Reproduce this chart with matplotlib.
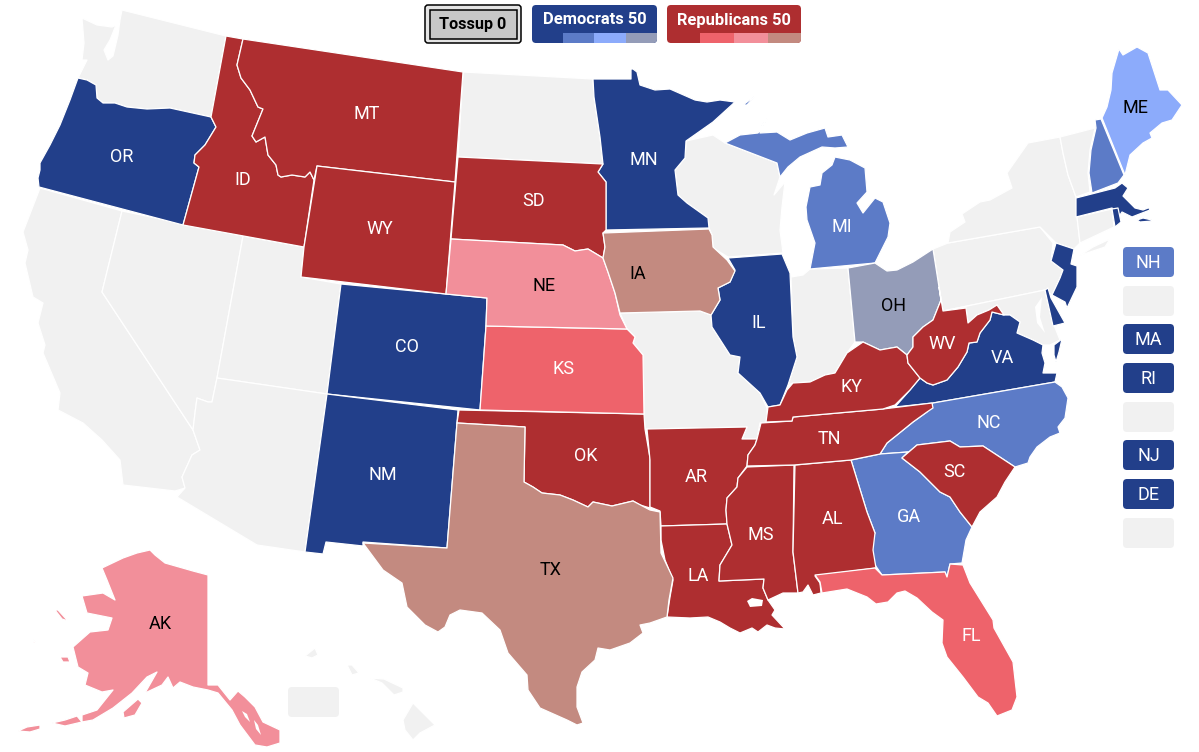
# 2024-style US electoral map with state ratings, outlines (pixel units)
import matplotlib
matplotlib.use('Agg')
import matplotlib.pyplot as plt
from matplotlib.patches import Polygon, FancyBboxPatch, Rectangle

plt.rcParams['font.family'] = ['Roboto', 'DejaVu Sans']

# state outlines
WA = [(122,10),(226,36),(211,117),(170,108),(147,109),(127,107),(115,103),(103,103),(97,98),(96,85),(87,80),(78,78),(87,60),(82,60),(84,43),(82,18),(97,25),(112,27),(116,25),(110,40),(104,50),(108,60),(113,56),(118,35),(120,20)]
OR = [(78,78),(87,80),(96,85),(97,98),(103,103),(115,103),(127,107),(147,109),(170,108),(211,117),(216,127),(205,145),(195,155),(194,163),(199,167),(183,225),(39,187),(38,178),(40,170),(40,163),(50,145),(60,125),(70,100)]
ID = [(226,36),(243,39),(237,65),(241,78),(250,90),(258,107),(263,109),(252,136),(256,142),(265,137),(268,155),(276,165),(278,175),(281,177),(292,175),(305,177),(310,172),(314,180),(304,247),(183,225),(199,167),(194,163),(195,155),(205,145),(216,127),(211,117)]
MT = [(243,39),(463,72),(455,182),(317,166),(314,180),(310,172),(305,177),(292,175),(281,177),(278,175),(276,165),(268,155),(265,137),(256,142),(252,136),(263,109),(258,107),(250,90),(241,78),(237,65)]
WY = [(317,166),(455,182),(446,294),(301,277),(304,247)]
ND = [(463,72),(593,79),(594,97),(600,137),(603,164),(458,157)]
SD = [(458,157),(603,164),(598,172),(606,182),(606,230),(603,233),(605,247),(603,258),(588,249),(575,251),(563,245),(451,239)]
NE = [(451,239),(563,245),(575,251),(588,249),(603,258),(608,272),(615,293),(620,315),(627,329),(486,326),(487,298),(446,294)]
CO = [(341,284),(446,294),(487,298),(486,326),(480,410),(327,394)]
KS = [(486,326),(627,329),(635,337),(633,343),(643,355),(644,414),(480,410)]
NM = [(327,394),(458,410),(457,423),(447,548),(363,542),(363,546),(326,542),(323,554),(305,552)]
OK = [(459,410),(644,414),(645,429),(650,458),(650,508),(640,505),(633,501),(612,506),(593,502),(588,507),(573,500),(560,495),(542,493),(533,487),(524,482),(525,427),(457,423)]
TX = [(457,423),(525,427),(524,482),(533,487),(542,493),(560,495),(573,500),(588,507),(593,502),(612,506),(633,501),(650,510),(660,512),(661,553),(673,578),(669,600),(667,617),(650,623),(640,625),(643,633),(630,643),(610,650),(598,648),(595,660),(582,672),(577,687),(577,707),(583,723),(577,725),(567,720),(540,708),(528,690),(527,675),(508,653),(500,630),(482,613),(460,610),(450,615),(445,627),(438,632),(425,625),(407,607),(402,583),(383,570),(363,543),(447,548)]
MN = [(593,79),(631,79),(631,69),(633,69),(637,72),(640,85),(655,90),(670,89),(695,100),(707,102),(720,100),(735,102),(713,122),(686,141),(685,158),(675,170),(678,195),(687,203),(708,218),(709,228),(606,230),(606,182),(598,172),(603,164),(600,137),(594,97)]
IA = [(603,233),(709,229),(712,235),(713,247),(727,260),(735,271),(730,282),(718,288),(720,300),(711,315),(700,311),(620,313),(615,293),(608,272),(603,258),(605,247)]
MO = [(620,313),(700,311),(711,315),(712,327),(730,355),(740,357),(738,373),(760,393),(767,408),(768,422),(760,423),(757,439),(742,439),(747,427),(645,429),(644,414),(643,355),(633,343),(635,337),(627,329)]
AR = [(647,429),(747,427),(742,439),(757,439),(755,445),(748,455),(747,466),(738,478),(737,487),(727,498),(726,510),(727,524),(661,526),(660,511),(650,507),(650,460)]
LA = [(661,526),(727,524),(732,545),(720,565),(719,581),(764,579),(763,588),(768,600),(775,610),(772,615),(785,629),(775,628),(767,625),(758,632),(752,628),(740,633),(730,628),(720,622),(708,617),(690,618),(667,617),(670,597),(673,580),(665,560),(661,540)]
MS = [(747,467),(794,465),(793,552),(798,593),(783,593),(768,600),(763,588),(764,579),(719,581),(720,565),(732,545),(727,524),(726,510),(727,498),(737,487),(738,478)]
AL = [(795,465),(851,460),(867,512),(875,533),(873,550),(876,568),(815,576),(820,583),(821,593),(813,595),(808,585),(803,592),(798,593),(793,552)]
GA = [(851,460),(880,454),(908,452),(903,457),(902,458),(920,472),(940,492),(950,497),(960,512),(968,522),(972,527),(966,540),(962,563),(950,564),(947,577),(945,572),(882,575),(873,562),(872,540),(875,533),(867,512)]
SC = [(903,457),(917,445),(950,441),(960,447),(983,446),(1015,467),(1005,482),(997,497),(980,512),(972,527),(968,522),(960,512),(950,497),(940,492),(920,472),(902,458)]
NC = [(880,454),(887,443),(897,435),(913,422),(927,412),(933,403),(1055,382),(1062,387),(1068,398),(1065,418),(1058,427),(1060,433),(1050,437),(1037,447),(1030,457),(1028,463),(1015,467),(983,446),(960,447),(950,441),(917,445),(903,457),(908,452)]
FL = [(815,575),(875,568),(882,575),(945,572),(947,577),(950,564),(963,565),(970,583),(993,620),(994,628),(1013,662),(1017,697),(1012,710),(997,716),(988,703),(978,697),(963,677),(947,657),(942,643),(943,620),(932,612),(917,598),(905,591),(897,593),(888,602),(876,604),(867,597),(847,589),(822,593),(820,582)]
TN = [(761,423),(792,421),(793,417),(883,409),(932,403),(933,408),(927,412),(913,422),(897,435),(887,443),(880,454),(851,460),(794,465),(747,466),(748,455),(755,445),(757,439)]
KY = [(766,422),(768,407),(780,405),(787,390),(793,383),(810,382),(825,375),(835,373),(847,353),(863,342),(880,350),(897,347),(907,355),(908,363),(920,378),(910,390),(895,405),(883,409),(793,417),(792,421)]
IL = [(728,258),(782,254),(790,273),(793,337),(797,357),(788,385),(780,405),(768,407),(760,393),(738,373),(740,357),(730,355),(712,327),(711,315),(720,300),(718,288),(730,282),(735,270)]
IN = [(791,277),(803,275),(810,269),(848,268),(855,342),(847,353),(835,373),(825,375),(810,382),(793,383),(788,385),(797,357),(793,337)]
OH = [(848,268),(875,263),(887,271),(897,270),(913,262),(933,249),(939,287),(941,300),(933,320),(923,327),(913,337),(913,347),(907,355),(897,347),(880,350),(863,342),(855,342)]
WV = [(907,355),(913,347),(913,337),(923,327),(933,320),(941,300),(939,287),(943,311),(966,308),(968,323),(977,315),(989,310),(997,305),(1004,315),(992,312),(990,320),(980,333),(977,342),(969,343),(967,352),(958,367),(947,380),(933,385),(927,383),(920,378),(908,363)]
VA = [(895,407),(910,390),(920,378),(927,383),(933,385),(947,380),(958,367),(967,352),(969,343),(977,342),(980,333),(990,320),(992,312),(1004,315),(1010,315),(1020,322),(1017,333),(1033,340),(1043,345),(1042,353),(1045,363),(1043,373),(1057,373),(1055,382),(933,403)]
VA_SHORE = [(1054,345),(1062,339),(1059,352),(1056,362),(1054,355)]
MD = [(943,311),(1045,290),(1052,320),(1060,340),(1050,345),(1043,345),(1033,340),(1017,333),(1020,322),(1010,315),(1004,315),(997,305),(989,310),(977,315),(968,323),(966,308)]
DE = [(1045,290),(1048,288),(1051,298),(1065,323),(1053,326)]
NJ = [(1056,243),(1074,249),(1071,264),(1077,266),(1077,287),(1067,308),(1065,302),(1052,295),(1060,278),(1063,270),(1051,261)]
PA = [(933,249),(948,243),(1040,227),(1053,243),(1051,261),(1063,270),(1060,278),(1052,295),(1045,290),(943,311),(939,287)]
NY = [(948,243),(950,232),(965,222),(962,214),(980,202),(990,200),(1012,188),(1007,173),(1028,143),(1060,137),(1063,153),(1068,175),(1076,197),(1077,217),(1080,243),(1074,249),(1056,243),(1040,227)]
LONG_ISLAND = [(1079,256),(1093,247),(1110,239),(1105,247),(1087,253)]
CT = [(1077,217),(1112,209),(1114,227),(1080,243)]
RI = [(1112,209),(1118,208),(1121,222),(1115,227)]
MA = [(1076,198),(1115,188),(1122,183),(1128,188),(1123,196),(1135,208),(1143,210),(1148,208),(1145,200),(1150,210),(1137,215),(1132,217),(1122,212),(1120,215),(1112,208),(1076,217)]
MA_ISLANDS = [(1137,220),(1143,218),(1152,220),(1152,221),(1140,222)]
VT = [(1060,137),(1095,128),(1090,150),(1088,173),(1090,192),(1076,197),(1068,175),(1063,153)]
NH = [(1095,120),(1101,119),(1124,175),(1118,183),(1092,193),(1089,173),(1091,150),(1096,128)]
ME = [(1119,49),(1123,55),(1137,47),(1148,53),(1160,90),(1168,90),(1182,105),(1172,120),(1162,123),(1150,133),(1152,138),(1143,143),(1130,155),(1125,175),(1102,118),(1107,107),(1111,90),(1112,73)]
WI = [(686,141),(713,135),(725,143),(777,163),(780,177),(774,195),(785,182),(782,207),(780,230),(783,253),(728,257),(713,248),(712,235),(709,228),(708,218),(687,203),(678,195),(675,170),(685,158)]
MI_UPPER = [(725,143),(740,135),(758,133),(770,115),(762,125),(760,133),(777,132),(790,140),(807,133),(825,128),(828,137),(842,135),(848,147),(835,148),(822,147),(800,157),(788,167),(780,177),(777,163)]
MI_LOWER = [(835,157),(850,160),(865,168),(867,192),(857,203),(863,213),(875,198),(883,202),(890,223),(888,237),(875,263),(810,269),(815,243),(807,220),(806,207),(810,187),(820,185),(822,173),(832,165)]
MI_ISLE = [(743,105),(755,96),(747,105)]
CA = [(40,188),(122,211),(102,292),(193,430),(200,450),(192,455),(182,477),(185,488),(175,491),(123,485),(120,460),(102,440),(83,423),(58,410),(60,393),(43,353),(45,345),(38,323),(43,303),(33,297),(25,263),(28,250),(23,232)]
NV = [(122,211),(243,236),(217,378),(212,402),(208,402),(197,398),(195,413),(193,430),(102,292)]
UT = [(243,236),(304,247),(301,277),(341,284),(327,394),(217,378)]
AZ = [(217,378),(327,394),(305,552),(257,545),(177,497),(185,488),(182,477),(192,455),(200,450),(193,430),(195,413),(197,398),(208,402),(212,402)]
HI_1 = [(305,656),(315,648),(318,655),(312,658)]
HI_2 = [(347,665),(352,665),(359,673),(352,675)]
HI_3 = [(370,678),(384,679),(403,688),(403,692),(394,695),(382,683)]
HI_4 = [(403,720),(413,703),(435,725),(420,733),(413,740),(405,730)]
AK = [(150,550),(155,555),(165,563),(193,571),(208,575),(208,685),(218,685),(230,700),(238,691),(245,697),(255,707),(263,722),(280,730),(280,743),(267,747),(255,745),(240,725),(232,710),(218,693),(208,690),(193,687),(180,682),(173,688),(168,677),(162,685),(145,693),(157,672),(147,677),(132,693),(113,708),(93,720),(82,722),(82,715),(97,710),(113,690),(102,692),(85,685),(88,673),(78,667),(73,647),(90,632),(108,630),(112,618),(87,613),(82,596),(103,593),(115,600),(107,580),(102,568),(123,558),(137,553)]
AK_KODIAK = [(123,712),(138,699),(142,703),(135,715),(124,718)]
AK_ISLE_1 = [(52,723),(65,720),(77,716),(82,722),(65,726)]
AK_ISLE_2 = [(18,731),(27,727),(40,725),(40,729),(30,732)]
AK_ISLE_3 = [(55,610),(58,610),(68,621),(62,619)]
AK_ISLE_4 = [(60,657),(68,657),(70,662),(63,662)]
AK_ISLE_5 = [(33,639),(36,643),(34,643)]

# water cut out of the land shapes
LAKE_PONTCHARTRAIN = [(747,601),(752,598),(763,600),(762,606),(750,607)]
CHESAPEAKE = [(1035,307),(1042,297),(1040,317),(1045,333),(1037,323)]
SE_ALASKA_1 = [(242,711),(247,714),(250,722),(245,717)]
SE_ALASKA_2 = [(254,720),(258,725),(261,735),(256,729)]

# ratings
safe_dem = {'OR': [OR], 'CO': [CO], 'NM': [NM], 'MN': [MN], 'IL': [IL], 'VA': [VA, VA_SHORE], 'NJ': [NJ], 'DE': [DE], 'MA': [MA, MA_ISLANDS], 'RI': [RI]}
likely_dem = {'MI': [MI_UPPER, MI_LOWER, MI_ISLE], 'NC': [NC], 'GA': [GA], 'NH': [NH]}
lean_dem = {'ME': [ME]}
tilt_dem = {'OH': [OH]}
safe_rep = {'ID': [ID], 'MT': [MT], 'WY': [WY], 'SD': [SD], 'OK': [OK], 'AR': [AR], 'LA': [LA], 'MS': [MS], 'AL': [AL], 'TN': [TN], 'KY': [KY], 'WV': [WV], 'SC': [SC]}
likely_rep = {'KS': [KS], 'FL': [FL]}
lean_rep = {'NE': [NE], 'AK': [AK, AK_KODIAK, AK_ISLE_1, AK_ISLE_2, AK_ISLE_3, AK_ISLE_4, AK_ISLE_5]}
tilt_rep = {'IA': [IA], 'TX': [TX]}
no_race = [WA, ND, CA, NV, UT, AZ, MO, WI, IN, PA, NY, LONG_ISLAND, CT, VT, MD, HI_1, HI_2, HI_3, HI_4]

label_pos = {'OR': (122,156), 'ID': (243,179), 'MT': (367,113), 'WY': (380,228), 'SD': (534,200), 'NE': (544,285),
             'IA': (638,273), 'MN': (644,159), 'MI': (842,226), 'IL': (759,322), 'OH': (894,305), 'WV': (942,343),
             'VA': (1002,357), 'KY': (851,386), 'TN': (829,438), 'NC': (989,422), 'SC': (954,471), 'GA': (909,516),
             'AL': (832,518), 'MS': (761,534), 'LA': (698,575), 'AR': (696,476), 'OK': (586,455), 'KS': (563,368),
             'CO': (407,346), 'NM': (383,474), 'TX': (551,569), 'FL': (971,635), 'AK': (160,623), 'ME': (1135,107)}
black_labels = ['NE', 'IA', 'OH', 'TX', 'AK', 'ME']

# small-state boxes on the right, gray ones have no race
side_labels = ['NH', '', 'MA', 'RI', '', 'NJ', 'DE', '']
side_tops = [247, 286, 324, 363, 402, 440, 479, 518]
side_colors = ['likely_dem', 'none', 'safe_dem', 'safe_dem', 'none', 'safe_dem', 'safe_dem', 'none']

colors = {'none': '#f1f1f1', 'safe_dem': '#223f8a', 'likely_dem': '#5c7bc7', 'lean_dem': '#8cabfb', 'tilt_dem': '#949cb8',
          'safe_rep': '#ae2e30', 'likely_rep': '#ee636b', 'lean_rep': '#f28f9a', 'tilt_rep': '#c38a80'}

fig = plt.figure(figsize=(11.99, 7.52), dpi=100)
ax = fig.add_axes([0, 0, 1, 1])
ax.set_xlim(0, 1199)
ax.set_ylim(752, 0)
ax.axis('off')


def draw(shape, color):
    ax.add_patch(Polygon(shape, closed=True, facecolor=color, edgecolor='white', linewidth=0.9, joinstyle='round', zorder=2))


def rounded(x, y, w, h, color, r=4, **kw):
    box = FancyBboxPatch((x + r, y + r), w - 2*r, h - 2*r, boxstyle='round,pad=%d,rounding_size=%d' % (r, r), facecolor=color, edgecolor='none', zorder=3, **kw)
    ax.add_patch(box)
    return box


for shape in no_race:
    draw(shape, colors['none'])

groups = [(safe_dem, 'safe_dem'), (likely_dem, 'likely_dem'), (lean_dem, 'lean_dem'), (tilt_dem, 'tilt_dem'),
          (safe_rep, 'safe_rep'), (likely_rep, 'likely_rep'), (lean_rep, 'lean_rep'), (tilt_rep, 'tilt_rep')]
for group, key in groups:
    for name, shapes in group.items():
        for shape in shapes:
            draw(shape, colors[key])

for shape in [LAKE_PONTCHARTRAIN, CHESAPEAKE, SE_ALASKA_1, SE_ALASKA_2]:
    ax.add_patch(Polygon(shape, closed=True, facecolor='white', edgecolor='none', zorder=2.5))

for name, (x, y) in label_pos.items():
    ax.text(x, y + 1, name, color='black' if name in black_labels else 'white', fontsize=13, ha='center', va='center', zorder=4)

# territory-at-large gray box under Hawaii
rounded(288, 687, 51, 30, colors['none'])

for name, top, key in zip(side_labels, side_tops, side_colors):
    rounded(1123, top, 51, 30, colors[key])
    if name:
        ax.text(1148.5, top + 16, name, color='white', fontsize=13, ha='center', va='center', zorder=4)

# tossup button
outer = FancyBboxPatch((428, 8), 90, 32, boxstyle='round,pad=3,rounding_size=3', facecolor='#e4e4e4', edgecolor='black', linewidth=1.1, zorder=3)
ax.add_patch(outer)
ax.add_patch(Rectangle((429.5, 9.5), 87, 29, facecolor='#c8c8c8', edgecolor='black', linewidth=1.1, zorder=3.1))
ax.text(473, 24.5, 'Tossup 0', color='black', fontsize=11.6, fontweight='bold', ha='center', va='center', zorder=4)

# party totals with rating strips
dem_box = rounded(532, 5, 125, 38, colors['safe_dem'])
for x0, x1, key in [(563, 594, 'likely_dem'), (594, 626, 'lean_dem'), (626, 657, 'tilt_dem')]:
    strip = Rectangle((x0, 33), x1 - x0, 10, facecolor=colors[key], edgecolor='none', zorder=3.1)
    ax.add_patch(strip)
    strip.set_clip_path(dem_box)
ax.text(594.5, 20, 'Democrats 50', color='white', fontsize=11.9, fontweight='bold', ha='center', va='center', zorder=4)

rep_box = rounded(667, 5, 134, 38, colors['safe_rep'])
for x0, x1, key in [(700, 734, 'likely_rep'), (734, 768, 'lean_rep'), (768, 801, 'tilt_rep')]:
    strip = Rectangle((x0, 33), x1 - x0, 10, facecolor=colors[key], edgecolor='none', zorder=3.1)
    ax.add_patch(strip)
    strip.set_clip_path(rep_box)
ax.text(734, 20, 'Republicans 50', color='white', fontsize=11.9, fontweight='bold', ha='center', va='center', zorder=4)

fig.savefig('out.png', dpi=100)
